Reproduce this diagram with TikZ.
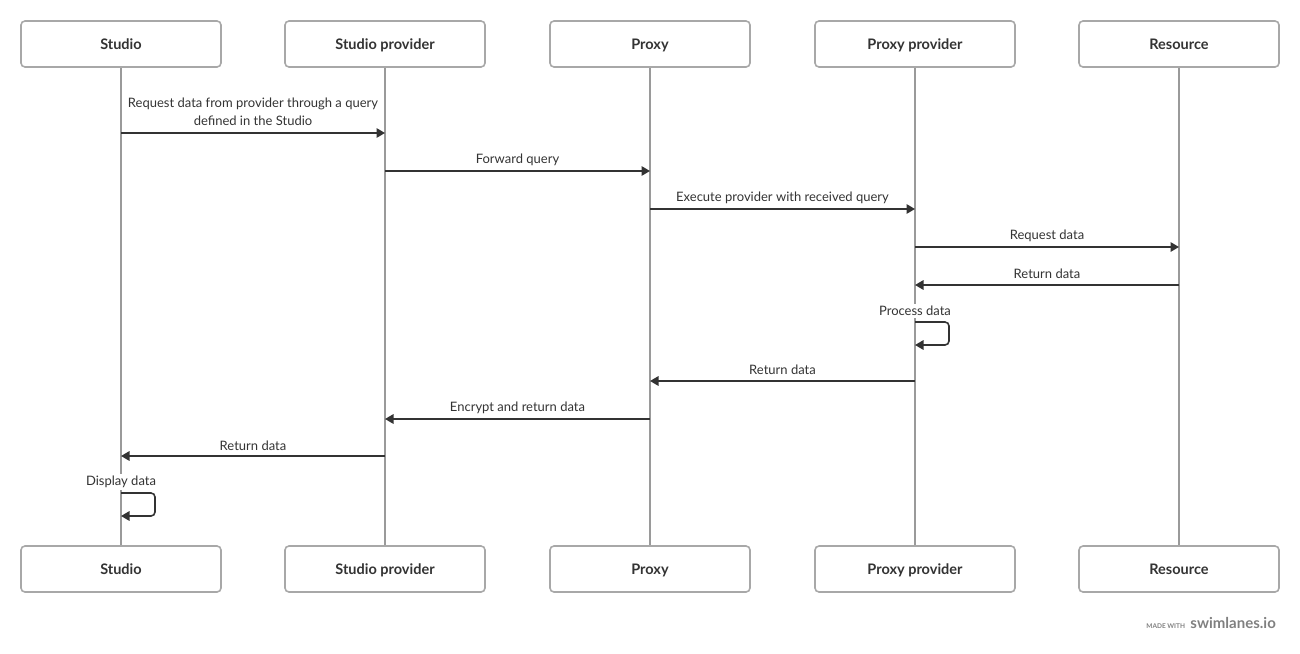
\documentclass[tikz,border=0pt]{standalone}
\usepackage{fontspec}
\setmainfont{Lato}
\usetikzlibrary{arrows.meta}
\definecolor{boxgray}{HTML}{A8A8A8}
\definecolor{linegray}{HTML}{9A9A9A}
\definecolor{arrowdark}{HTML}{333333}
\definecolor{txt}{HTML}{333333}
\tikzset{
  actor/.style={draw=boxgray, line width=1.6pt, rounded corners=4pt, minimum width=200pt, minimum height=46pt, font=\fontsize{14.5}{16}\selectfont\bfseries, text=txt, fill=white, text height=11pt, text depth=0pt},
  life/.style={draw=linegray, line width=1.5pt},
  msg/.style={draw=arrowdark, line width=1.6pt, -{Triangle[length=8.5pt,width=9.5pt]}},
  lbl/.style={font=\fontsize{13}{18}\selectfont, text=txt, inner sep=1pt, align=center},
  lblw/.style={lbl, fill=white, inner sep=2pt},
}
\begin{document}
\begin{tikzpicture}[x=1pt,y=-1pt]
\useasboundingbox (0,0) rectangle (1300,653);
% lifelines
\foreach \n/\x in {a/121,b/385,c/650,d/915,e/1179}{
  \coordinate (\n t) at (\x,67);
  \coordinate (\n b) at (\x,546);
  \draw[life] (\n t) -- (\n b);
}
% actors
\node[actor] (A1) at (121,44) {Studio};
\node[actor] (B1) at (385,44) {Studio provider};
\node[actor] (C1) at (650,44) {Proxy};
\node[actor] (D1) at (915,44) {Proxy provider};
\node[actor] (E1) at (1179,44) {Resource};
\node[actor] (A2) at (121,569) {Studio};
\node[actor] (B2) at (385,569) {Studio provider};
\node[actor] (C2) at (650,569) {Proxy};
\node[actor] (D2) at (915,569) {Proxy provider};
\node[actor] (E2) at (1179,569) {Resource};
% message anchors
\coordinate (m1a) at (121,133); \coordinate (m1b) at (385,133);
\coordinate (m2a) at (385,171); \coordinate (m2b) at (650,171);
\coordinate (m3a) at (650,209); \coordinate (m3b) at (915,209);
\coordinate (m4a) at (915,247); \coordinate (m4b) at (1179,247);
\coordinate (m5a) at (1179,285); \coordinate (m5b) at (915,285);
\coordinate (s1a) at (915,322); \coordinate (s1b) at (915,345);
\coordinate (m6a) at (915,381); \coordinate (m6b) at (650,381);
\coordinate (m7a) at (650,419); \coordinate (m7b) at (385,419);
\coordinate (m8a) at (385,456); \coordinate (m8b) at (121,456);
\coordinate (s2a) at (121,493); \coordinate (s2b) at (121,516);
% messages
\draw[msg] (m1a) -- (m1b);
\node[lbl] (l1) at (253,112) {Request data from provider through a query\\defined in the Studio};
\draw[msg] (m2a) -- (m2b);
\node[lbl] (l2) at (517.5,159.5) {Forward query};
\draw[msg] (m3a) -- (m3b);
\node[lbl] (l3) at (782.5,197.5) {Execute provider with received query};
\draw[msg] (m4a) -- (m4b);
\node[lbl] (l4) at (1047,235.5) {Request data};
\draw[msg] (m5a) -- (m5b);
\node[lbl] (l5) at (1047,273.5) {Return data};
\node[lblw] (l6) at (915,311) {Process data};
\draw[msg, rounded corners=4pt] (s1a) -- ++(34,0) -- ++(0,23) -- (s1b);
\draw[msg] (m6a) -- (m6b);
\node[lbl] (l7) at (782.5,369.5) {Return data};
\draw[msg] (m7a) -- (m7b);
\node[lbl] (l8) at (517.5,407.5) {Encrypt and return data};
\draw[msg] (m8a) -- (m8b);
\node[lbl] (l9) at (253,445.5) {Return data};
\node[lblw] (l10) at (121,482) {Display data};
\draw[msg, rounded corners=4pt] (s2a) -- ++(34,0) -- ++(0,23) -- (s2b);
% footer
\node[anchor=base east, inner sep=0pt, text=gray, font=\fontsize{15}{16}\selectfont\bfseries] (sw) at (1276,628) {swimlanes.io};
\node[anchor=base east, inner sep=0pt, text=gray, font=\fontsize{6.5}{7}\selectfont\bfseries] (mw) at ([xshift=-5pt]sw.base west) {MADE WITH};
\end{tikzpicture}
\end{document}
